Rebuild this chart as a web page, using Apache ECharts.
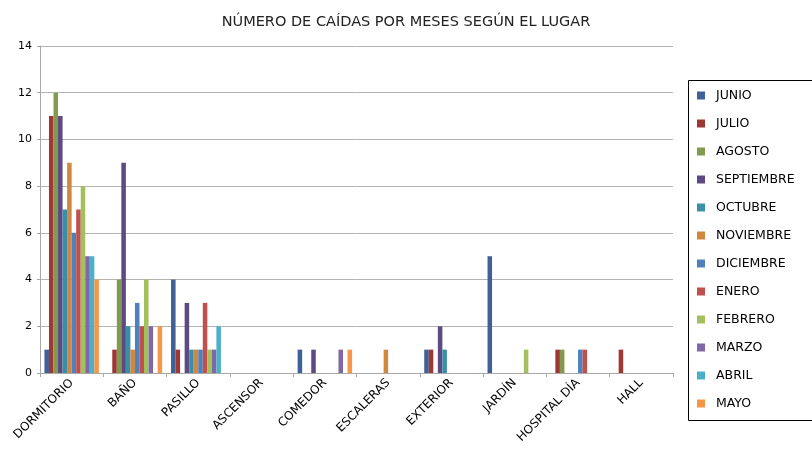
<!DOCTYPE html>
<html>
<head>
<meta charset="utf-8">
<script src="https://cdn.jsdelivr.net/npm/echarts@6/dist/echarts.min.js"></script>
<style>
  html, body { margin: 0; padding: 0; background: #fff; }
  #chart { width: 812px; height: 449px; }
</style>
</head>
<body>
<div id="chart"></div>
<script>
// lugares
const categories = ['DORMITORIO', 'BAÑO', 'PASILLO', 'ASCENSOR', 'COMEDOR', 'ESCALERAS', 'EXTERIOR', 'JARDÍN', 'HOSPITAL DÍA', 'HALL'];
const months = ['JUNIO', 'JULIO', 'AGOSTO', 'SEPTIEMBRE', 'OCTUBRE', 'NOVIEMBRE', 'DICIEMBRE', 'ENERO', 'FEBRERO', 'MARZO', 'ABRIL', 'MAYO'];

// caídas por mes y lugar
const junio      = [1, 0, 4, 0, 1, 0, 1, 5, 0, 0];
const julio      = [11, 1, 1, 0, 0, 0, 1, 0, 1, 1];
const agosto     = [12, 4, 0, 0, 0, 0, 0, 0, 1, 0];
const septiembre = [11, 9, 3, 0, 1, 0, 2, 0, 0, 0];
const octubre    = [7, 2, 1, 0, 0, 0, 1, 0, 0, 0];
const noviembre  = [9, 1, 1, 0, 0, 1, 0, 0, 0, 0];
const diciembre  = [6, 3, 1, 0, 0, 0, 0, 0, 1, 0];
const enero      = [7, 2, 3, 0, 0, 0, 0, 0, 1, 0];
const febrero    = [8, 4, 1, 0, 0, 0, 0, 1, 0, 0];
const marzo      = [5, 2, 1, 0, 1, 0, 0, 0, 0, 0];
const abril      = [5, 0, 2, 0, 0, 0, 0, 0, 0, 0];
const mayo       = [4, 2, 0, 0, 1, 0, 0, 0, 0, 0];

const yTicks = [0, 2, 4, 6, 8, 10, 12, 14];

const values = [junio, julio, agosto, septiembre, octubre, noviembre, diciembre, enero, febrero, marzo, abril, mayo];
const colors = ['#3f6198', '#9e3835', '#829a4f', '#5d4a82', '#3a8fa8', '#d0873f',
                '#4f81bd', '#c0504d', '#a3c05c', '#8068a6', '#4bb0c9', '#f79646'];

// texto algo ancho, como en la imagen original
const font = '"DejaVu Sans", Verdana, sans-serif';

const chart = echarts.init(document.getElementById('chart'));
chart.setOption({
  animation: false,
  color: colors,
  title: {
    text: 'NÚMERO DE CAÍDAS POR MESES SEGÚN EL LUGAR',
    left: 401,
    top: 10,
    textAlign: 'center',
    textStyle: { fontFamily: font, fontSize: 14.5, fontWeight: 'normal', color: '#222' }
  },
  grid: { left: 40, top: 46, right: 139, bottom: 76 },
  legend: {
    orient: 'vertical',
    left: 697,
    top: 89,
    padding: 0,
    itemWidth: 8,
    itemHeight: 8,
    itemGap: 15,
    icon: 'rect',
    textStyle: { fontFamily: font, fontSize: 12.5, color: '#000', padding: [0, 0, 0, 6] },
    data: months
  },
  graphic: [{
    type: 'rect',
    shape: { x: 688.5, y: 80.5, width: 130, height: 340 },
    style: { fill: 'none', stroke: '#000', lineWidth: 1 }
  }],
  xAxis: {
    type: 'category',
    data: categories,
    axisLine: { lineStyle: { color: '#a8a8a8' } },
    axisTick: { show: true, length: 4, lineStyle: { color: '#a8a8a8' } },
    axisLabel: { rotate: 45, fontFamily: font, fontSize: 12, color: '#000', margin: 8, interval: 0 }
  },
  yAxis: {
    type: 'value',
    min: yTicks[0],
    max: yTicks[yTicks.length - 1],
    interval: 2,
    axisLine: { show: true, lineStyle: { color: '#a8a8a8' } },
    axisTick: { show: true, length: 3, lineStyle: { color: '#a8a8a8' } },
    axisLabel: { fontFamily: font, fontSize: 11, color: '#000', margin: 8 },
    splitLine: { lineStyle: { color: '#b4b4b4', width: 1 } }
  },
  series: months.map((m, i) => ({
    name: m,
    type: 'bar',
    data: values[i],
    barGap: '0%',
    barCategoryGap: '14%'
  }))
});
</script>
</body>
</html>
